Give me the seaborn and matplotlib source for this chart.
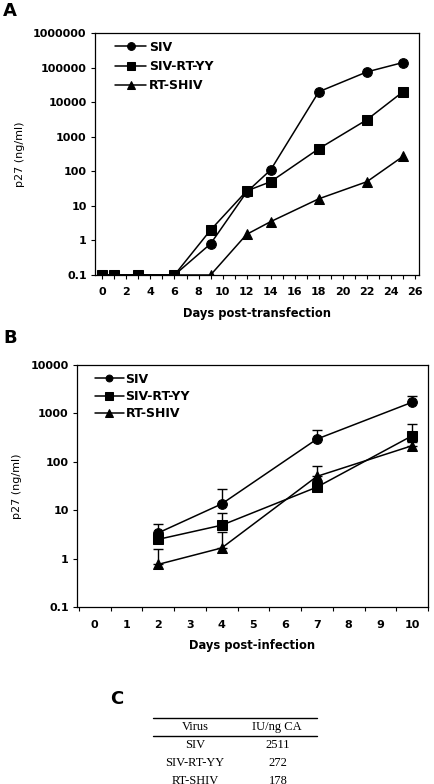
import matplotlib
matplotlib.use("Agg")
import matplotlib.pyplot as plt
from matplotlib.lines import Line2D
from matplotlib.ticker import FixedLocator, NullFormatter, FuncFormatter
import seaborn as sns
import numpy as np
import pandas as pd

# panel A: p27 after transfection
days_a = [0, 1, 3, 6, 9, 12, 14, 18, 22, 25]
siv_a = [0.1, 0.1, 0.1, 0.1, 0.8, 25, 110, 20000, 75000, 140000]
rtyy_a = [0.1, 0.1, 0.1, 0.1, 2.0, 27, 50, 450, 3100, 20000]
days_shiv_a = [0, 1, 3, 6, 9, 12, 14, 18, 22, 25]
shiv_a = [0.1, 0.1, 0.1, 0.1, 0.1, 1.5, 3.5, 16, 50, 270]

# panel B: p27 after infection (mean, upper error bar top)
days_b = [2, 4, 7, 10]
siv_b = [3.4, 13.5, 295, 1700]
siv_b_hi = [5.1, 27, 453, 2300]
rtyy_b = [2.5, 4.9, 30, 345]
rtyy_b_hi = [3.3, 8.9, 38, 590]
shiv_b = [0.76, 1.66, 50, 215]
shiv_b_hi = [1.56, 3.6, 83, 260]

# panel C table
viruses = ["SIV", "SIV-RT-YY", "RT-SHIV"]
iu_per_ng = ["2511", "272", "178"]

markers = {"SIV": "o", "SIV-RT-YY": "s", "RT-SHIV": "^"}
msize = {"SIV": 7, "SIV-RT-YY": 7.5, "RT-SHIV": 7.5}

sns.set_style("ticks")
plt.rcParams["font.family"] = ["DejaVu Sans"]
plt.rcParams["axes.linewidth"] = 0.9
for key in ["text.color", "axes.labelcolor", "xtick.color", "ytick.color", "axes.edgecolor"]:
    plt.rcParams[key] = "black"

W, H = 434, 784
fig = plt.figure(figsize=(W / 100, H / 100), dpi=100)


def box(l, t, r, b):
    return [l / W, 1 - b / H, (r - l) / W, (b - t) / H]


def long_df(days_list, vals_list):
    rows = []
    for name, d, v in zip(viruses, days_list, vals_list):
        for x, y in zip(d, v):
            rows.append({"day": x, "p27": y, "virus": name})
    return pd.DataFrame(rows)


def log_fmt(v, pos):
    if v < 1:
        return "0.1"
    return "%d" % round(v)


def style_axis(ax, ylo, yhi):
    ax.set_yscale("log")
    ax.set_ylim(ylo, yhi)
    ax.yaxis.set_major_locator(FixedLocator([10.0 ** k for k in range(int(np.log10(ylo)), int(np.log10(yhi)) + 1)]))
    ax.yaxis.set_minor_locator(FixedLocator([]))
    ax.yaxis.set_major_formatter(FuncFormatter(log_fmt))
    for s in ax.spines.values():
        s.set_visible(True)
        s.set_color("black")
    ax.tick_params(axis="y", length=3, width=0.8, pad=3, labelsize=8)
    for lab in ax.get_yticklabels():
        lab.set_fontweight("bold")


def draw_lines(ax, df):
    for name in viruses:
        sub = df[df["virus"] == name]
        sns.lineplot(data=sub, x="day", y="p27", ax=ax, color="black",
                     marker=markers[name], markersize=msize[name],
                     markeredgecolor="black", linewidth=1.1, label=name,
                     sort=False, estimator=None)


# ---- Panel A ----
axA = fig.add_axes(box(95, 33, 419, 275))
dfA = long_df([days_a, days_a, days_shiv_a], [siv_a, rtyy_a, shiv_a])
draw_lines(axA, dfA)
style_axis(axA, 0.1, 1e6)
axA.set_xlim(-0.61, 26.33)
axA.set_xticks(range(0, 27, 2))
axA.set_xticks(range(0, 27), minor=True)
axA.tick_params(axis="x", which="both", length=3, width=0.8, pad=6, labelsize=8)
for lab in axA.get_xticklabels():
    lab.set_fontweight("bold")
axA.set_xlabel("Days post-transfection", fontsize=8.3, fontweight="bold", labelpad=7)
axA.set_ylabel("p27 (ng/ml)", fontsize=8, labelpad=6)
legA = axA.legend(loc="upper left", bbox_to_anchor=(0.062, 0.968), frameon=False,
                  borderpad=0, borderaxespad=0, handlelength=2.5, handletextpad=0.2,
                  labelspacing=0.5, markerscale=0.8, prop={"size": 9, "weight": "bold"})

# ---- Panel B ----
axB = fig.add_axes(box(77, 365, 428, 607))
dfB = long_df([days_b] * 3, [siv_b, rtyy_b, shiv_b])
for name, mean, hi in zip(viruses, [siv_b, rtyy_b, shiv_b], [siv_b_hi, rtyy_b_hi, shiv_b_hi]):
    up = np.array(hi) - np.array(mean)
    axB.errorbar(days_b, mean, yerr=[np.zeros(len(up)), up], fmt="none",
                 ecolor="black", elinewidth=1, capsize=3.5, capthick=1)
draw_lines(axB, dfB)
style_axis(axB, 0.1, 1e4)
axB.set_xlim(-0.56, 10.42)
axB.set_xticks(range(0, 11))
axB.set_xticks(np.arange(-0.5, 10.6, 1), minor=True)
axB.tick_params(axis="x", which="major", length=0, pad=9, labelsize=8)
axB.tick_params(axis="x", which="minor", length=3, width=0.8)
axB.xaxis.set_minor_formatter(NullFormatter())
for lab in axB.get_xticklabels():
    lab.set_fontweight("bold")
axB.set_xlabel("Days post-infection", fontsize=8.3, fontweight="bold", labelpad=7)
axB.set_ylabel("p27 (ng/ml)", fontsize=8, labelpad=6)
legB = axB.legend(loc="upper left", bbox_to_anchor=(0.051, 0.968), frameon=False,
                  borderpad=0, borderaxespad=0, handlelength=2.3, handletextpad=0.15,
                  labelspacing=0.35, markerscale=0.7, prop={"size": 9, "weight": "bold"})

# ---- panel letters ----
for letter, x, y in [("A", 3, 11), ("B", 3, 338), ("C", 110, 699)]:
    fig.text(x / W, 1 - y / H, letter, fontsize=13, fontweight="bold", va="center", ha="left")

# ---- Panel C table ----
serif = ["Liberation Serif", "DejaVu Serif"]
x0, x1 = 153 / W, 317 / W
for yy in [718, 736]:
    fig.add_artist(Line2D([x0, x1], [1 - yy / H] * 2, color="black", lw=1.0))
fig.text(195 / W, 1 - 727 / H, "Virus", family=serif, fontsize=9, ha="center", va="center")
fig.text(277 / W, 1 - 727 / H, "IU/ng CA", family=serif, fontsize=9, ha="center", va="center")
for i, (v, n) in enumerate(zip(viruses, iu_per_ng)):
    yy = 745 + 18 * i
    fig.text(195 / W, 1 - yy / H, v, family=serif, fontsize=9, ha="center", va="center")
    fig.text(278 / W, 1 - yy / H, n, family=serif, fontsize=9, ha="center", va="center")

fig.savefig("out.png", dpi=100)
